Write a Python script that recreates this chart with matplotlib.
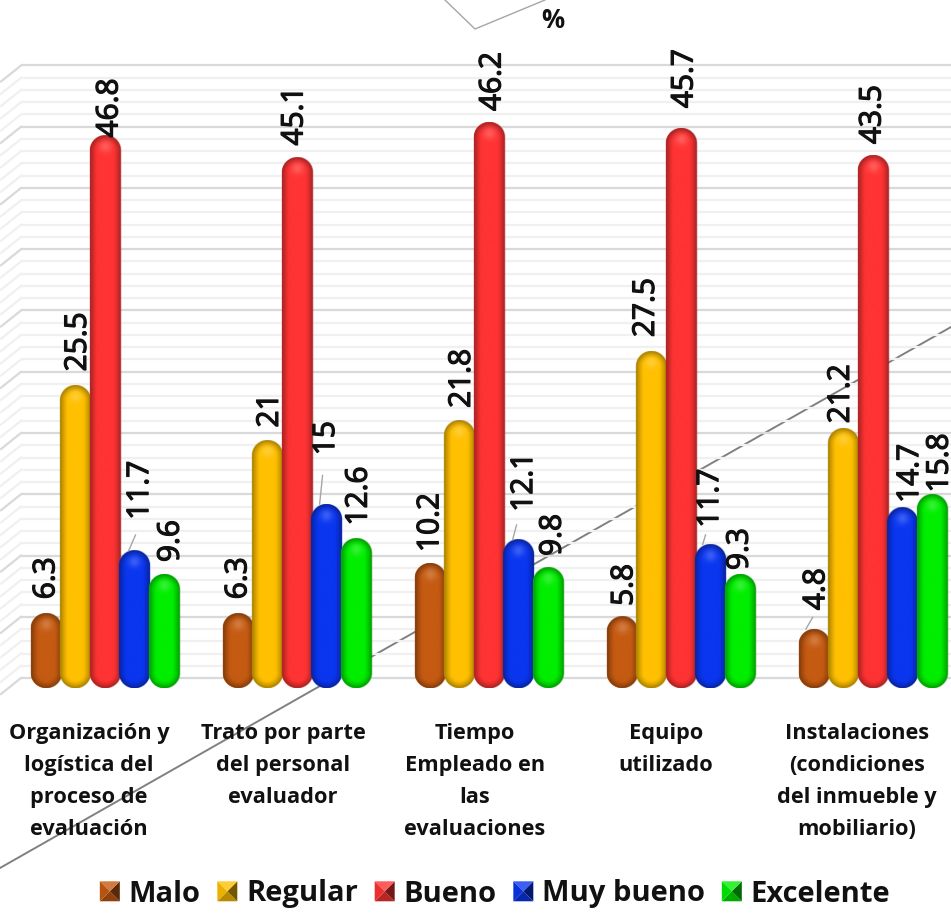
import numpy as np
import matplotlib
matplotlib.use("Agg")
import matplotlib.pyplot as plt
import matplotlib.patheffects as pe
from matplotlib.legend_handler import HandlerBase
from matplotlib.patches import Patch, Polygon
from matplotlib.colors import to_rgb

categories = ["Organización y\nlogística del\nproceso de\nevaluación",
              "Trato por parte\ndel personal\nevaluador",
              "Tiempo\nEmpleado en\nlas\nevaluaciones",
              "Equipo\nutilizado",
              "Instalaciones\n(condiciones\ndel inmueble y\nmobiliario)"]
series = ["Malo", "Regular", "Bueno", "Muy bueno", "Excelente"]
# bar heights
malo = [6.1, 6.1, 10.2, 5.8, 4.8]
regular = [24.7, 20.2, 21.8, 27.5, 21.2]
bueno = [45.1, 43.3, 46.2, 45.7, 43.5]
muy_bueno = [11.2, 15.0, 12.1, 11.7, 14.7]
excelente = [9.3, 12.2, 9.8, 9.3, 15.8]
# printed data labels
malo_labels = ["6.3", "6.3", "10.2", "5.8", "4.8"]
regular_labels = ["25.5", "21", "21.8", "27.5", "21.2"]
bueno_labels = ["46.8", "45.1", "46.2", "45.7", "43.5"]
muy_bueno_labels = ["11.7", "15", "12.1", "11.7", "14.7"]
excelente_labels = ["9.6", "12.6", "9.8", "9.3", "15.8"]

W, H = 951, 916
BASE_PX = 688.0      # front of bars
PX_PER_UNIT = 12.25
RADIUS = 15.2
SLOT = 29.6
colors = ["#C55A11", "#FFC000", "#FF3333", "#0A36F0", "#00EE00"]
FONT = "Open Sans"
plt.rcParams["font.family"] = [FONT, "DejaVu Sans"]

values = [malo, regular, bueno, muy_bueno, excelente]
labels = [malo_labels, regular_labels, bueno_labels, muy_bueno_labels, excelente_labels]
# label placement relative to bar centre/top, pixels (per series, per group)
label_dx = [[1, 1, 1, 3, 3], [3, 3, 3, -5, -2], [5, -2, 4, 4, 0], [6, 0, 6, 0, 8], [7, 3, 5, 0, 8]]
label_dy = [[14, 14, 11, 11, 19], [14, 13, 13, 14, 5], [-2, 12, 11, 20, 11], [31, 49, 28, 17, 5], [12, 13, 12, 4, 2]]
# (series, group): (end dx at the bar, run dx, run dy) in pixels
leaders = {(3, 0): (-6, 7, 16), (3, 1): (-7, 3, 29), (3, 2): (-6, 4, 15),
           (3, 3): (-8, 3, 10), (0, 4): (-8, 7, 12)}

fig = plt.figure(figsize=(W / 100, H / 100), dpi=100)
ax = fig.add_axes([0, 0, 1, 1])
ax.axis("off")
ylim = (-(H - BASE_PX) / PX_PER_UNIT, BASE_PX / PX_PER_UNIT)


def fig_xy(x, y):
    return np.asarray(x) / W, 1 - np.asarray(y) / H


# diagonal and top stray lines (behind the grid)
ax.plot(*fig_xy([0, 951], [868, 327]), transform=fig.transFigure, color="#808080", lw=1.4, zorder=1)
ax.plot(*fig_xy([445, 475, 545], [0, 29, 0]), transform=fig.transFigure, color="#a6a6a6", lw=1.0, zorder=1)

# back wall grid with a small perspective return at the left
depth = 10 / PX_PER_UNIT
for k in range(0, 51):
    major = k % 5 == 0
    c = "#d9d9d9" if major else "#f0f0f0"
    z = 2.1 if major else 2
    ax.hlines(k + depth, 21, W, color=c, lw=1.6, zorder=z)
    ax.plot([1, 21], [k + depth - 16 / PX_PER_UNIT, k + depth], color=c, lw=1.6, zorder=z)


def capsule_image(color, h_px):
    ss = 3
    w_px = 2 * RADIUS + 2
    nx, ny = int(w_px * ss), int(h_px * ss)
    xs = (np.arange(nx) + 0.5) / ss - w_px / 2
    ys = (np.arange(ny) + 0.5) / ss          # from top
    X, Y = np.meshgrid(xs, ys)
    dy = np.where(Y < RADIUS, RADIUS - Y, np.where(Y > h_px - RADIUS, Y - (h_px - RADIUS), 0.0))
    d = np.sqrt(X ** 2 + dy ** 2) / RADIUS
    fac = 1 - 0.36 * np.clip((d - 0.5) / 0.5, 0, 1) ** 1.3
    rgb = np.array(to_rgb(color))[None, None, :] * fac[..., None]
    # soft highlight on the top cap
    spot = np.exp(-((X ** 2 + (Y - RADIUS * 0.75) ** 2) / (RADIUS * 0.38) ** 2))
    rgb = rgb + (1 - rgb) * (0.2 * spot)[..., None]
    alpha = np.clip((1 - d) * RADIUS * 1.0 + 0.5, 0, 1)
    return np.dstack([rgb, alpha]), w_px


centers = 105 + 192.0 * np.arange(len(categories))
for j, (vals, col) in enumerate(zip(values, colors)):
    xs = centers + (j - 2) * SLOT
    z = 3 + 0.1 * j
    bars = ax.bar(xs, vals, width=2 * RADIUS, color=col, zorder=z, label=series[j])
    for bar, xc, v in zip(bars, xs, vals):
        t = np.linspace(0, np.pi, 30)
        ry = RADIUS / PX_PER_UNIT
        top = np.c_[xc + RADIUS * np.cos(t), v - ry + ry * np.sin(t)]
        bot = np.c_[xc - RADIUS * np.cos(t), ry - ry * np.sin(t)]
        clip = Polygon(np.vstack([top, bot]), closed=True, transform=ax.transData)
        bar.set_clip_path(clip)
        img, wpx = capsule_image(col, v * PX_PER_UNIT)
        ax.imshow(img, extent=(xc - wpx / 2, xc + wpx / 2, 0, v), aspect="auto",
                  origin="upper", interpolation="bilinear", zorder=z + 0.01)
    for g, (xc, v) in enumerate(zip(xs, vals)):
        ax.annotate(labels[j][g], xy=(xc, v), xytext=(label_dx[j][g], label_dy[j][g]),
                    textcoords="offset pixels", rotation=90, ha="center", va="bottom",
                    fontsize=21.5, color="#111111", zorder=10,
                    path_effects=[pe.withStroke(linewidth=0.9, foreground="#111111")])
        if (j, g) in leaders:
            ex, rx, ry_px = leaders[(j, g)]
            ax.annotate("", xy=(xc + ex, v), xytext=(rx, ry_px), textcoords="offset pixels",
                        arrowprops=dict(arrowstyle="-", color="#a6a6a6", lw=1, shrinkA=0, shrinkB=0),
                        zorder=9)

# category labels
label_cx = centers - 16 + np.array([0, 2, 2, 1, 0])
for xc, txt in zip(label_cx, categories):
    ax.text(xc, (BASE_PX - 723) / PX_PER_UNIT, txt, ha="center", va="top", fontsize=15.7,
            fontweight="bold", color="#111111", linespacing=1.685, zorder=11)

ax.text(553, (BASE_PX - 21) / PX_PER_UNIT, "%", ha="center", va="center", fontsize=18.5,
        fontweight="bold", color="#111111")


class Bevel(HandlerBase):
    def create_artists(self, legend, orig, xd, yd, w, h, fontsize, trans):
        c = np.array(to_rgb(orig.get_facecolor()))
        side = 14.4
        x0 = -xd + (w - side) / 2
        y0 = -yd + (h - side) / 2
        cx, cy = x0 + side / 2, y0 + side / 2
        P = [(x0, y0), (x0 + side, y0), (x0 + side, y0 + side), (x0, y0 + side)]
        faces = [(P[0], P[1], 0.72), (P[1], P[2], 0.45), (P[2], P[3], 1.15), (P[3], P[0], 0.92)]
        out = []
        for a, b, f in faces:
            fc = c * f if f < 1 else c + (1 - c) * 0.2
            out.append(Polygon([a, b, (cx, cy)], closed=True, fc=fc, ec="none", transform=trans))
        return out


handles = [Patch(facecolor=c, label=s) for c, s in zip(colors, series)]
leg = ax.legend(handles, series, handler_map={Patch: Bevel()}, ncol=5, frameon=False,
                loc="center", bbox_to_anchor=(495 / W, 1 - 894 / H),
                prop={"weight": "bold", "size": 21}, handlelength=0.69, handletextpad=0.3,
                columnspacing=0.57, borderpad=0, borderaxespad=0, labelcolor="#111111")

ax.set_xlim(0, W)
ax.set_ylim(*ylim)
fig.savefig("out.png", dpi=100, facecolor="white")
